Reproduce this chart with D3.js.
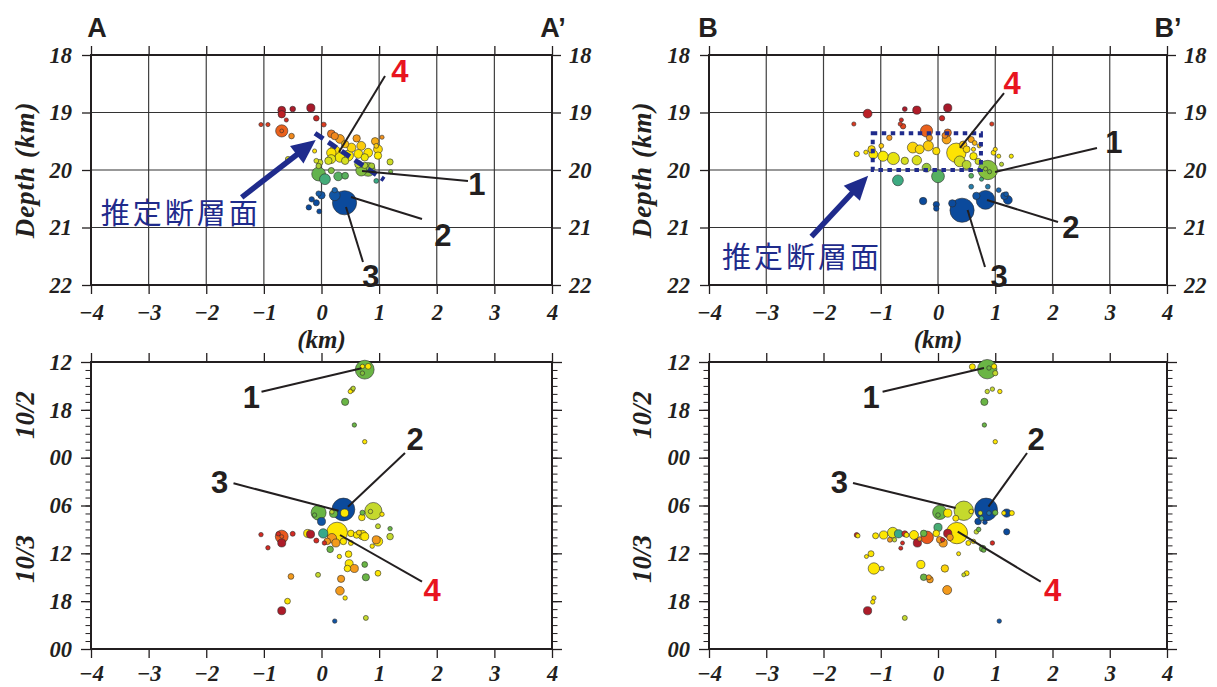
<!DOCTYPE html>
<html><head><meta charset="utf-8">
<script src="https://cdn.jsdelivr.net/npm/d3@7"></script>
<style>body{margin:0;background:#fff}svg{display:block}
.serif{font-family:"Liberation Serif","Times New Roman",Times,"Nimbus Roman","DejaVu Serif",serif;font-weight:bold;font-style:italic}
</style>
</head><body>
<svg id="c" width="1217" height="687"></svg>
<script>
// ---------------- data ----------------
const xTicks = [-4,-3,-2,-1,0,1,2,3,4];
const depthTicks = [18,19,20,21,22];
const timeTicks = [12,18,24,30,36,42,48];            // hours since 10/2 00:00
const timeTickLabels = ["12","18","00","06","12","18","00"];
const dayLabels = ["10/2","10/3"];
const dayLabelHours = [18.65,36.7];
const faultLabel = "推定断層面";

// cross sections: [distance km, depth km, magnitude]
const sectionA = [
 [-0.69,18.96,0.5],[-0.69,19.03,0.45],[-0.50,18.94,0.23],[-0.185,18.92,0.55],[-0.09,19.10,0.23],[-0.61,19.13,0.05],[-1.05,19.21,0.05],[-0.93,19.21,0.05],[0.04,19.21,0.13],
 [-0.69,19.32,1.05],[-0.69,19.32,0.0],[-0.52,19.41,0.23],[0.17,19.37,0.5],[0.23,19.41,0.45],[0.32,19.46,0.63],[0.93,19.50,0.45],[1.05,19.43,0.05],[0.95,19.58,0.13],
 [0.61,19.45,0.45],[0.41,19.55,0.45],[0.23,19.67,0.88],[0.46,19.75,0.88],[0.52,19.61,0.63],[0.69,19.58,0.63],[0.81,19.70,0.63],[0.98,19.64,0.63],[0.17,19.81,0.63],[0.32,19.78,0.75],[0.64,19.72,0.63],[0.75,19.78,0.45],[0.98,19.75,0.45],[0.17,19.70,0.7],[-0.12,19.67,0.05],[-0.58,19.81,0.2],
 [1.19,19.86,0.3],[0.12,19.84,0.45],[-0.03,19.87,0.3],[0.41,19.84,0.45],[0.64,19.90,0.45],[0.75,19.92,0.3],[0.87,19.93,0.3],[-0.05,19.93,0.2],[-0.09,19.84,0.13],
 [-0.05,20.07,1.25],[0.06,20.16,0.88],[0.29,20.11,0.63],[0.41,20.10,0.38],[0.17,20.01,0.3],[0.69,20.01,0.88],[0.81,19.99,1.25],[0.95,20.19,0.13],[1.20,20.03,0.05],
 [0.40,20.57,2.55],[0.23,20.44,0.88],[0.23,20.35,0.2],[0.0,20.44,0.45],[-0.09,20.57,0.3],[-0.17,20.51,0.2],[-0.22,20.65,0.2],[-0.04,20.72,0.13],[-0.05,20.41,0.2]
];
const sectionB = [
 [-1.23,19.02,0.63],[-0.58,18.94,0.13],[-0.37,18.96,0.55],[0.17,18.92,0.55],[0.07,19.10,0.2],[-0.64,19.13,0.05],[-0.66,19.20,0.05],[-0.61,19.24,0.2],[-1.47,19.20,0.05],[0.94,19.20,0.05],
 [-0.2,19.32,1.05],[-0.15,19.44,0.3],[0.17,19.35,0.45],[0.15,19.47,0.63],[0.12,19.40,0.25],[-0.85,19.44,0.2],
 [-0.99,19.58,0.13],[-1.42,19.72,0.2],[-1.26,19.69,0.05],[-1.16,19.64,0.45],[-1.13,19.73,0.63],[-0.96,19.76,0.8],[-0.78,19.80,1.05],[-0.58,19.84,0.45],[-0.44,19.61,0.88],[-0.32,19.64,0.63],[-0.17,19.58,0.8],[-0.03,19.67,0.45],[-0.37,19.83,0.7],
 [-0.2,19.96,0.63],[0.0,20.11,1.13],[-0.7,20.18,0.88],
 [0.32,19.70,1.95],[0.44,19.56,0.45],[0.5,19.64,0.38],[0.58,19.47,0.3],[0.64,19.53,0.13],[0.38,19.85,0.88],[0.5,19.91,0.63],[0.62,19.76,0.45],[0.70,19.85,0.3],[0.62,19.64,0.05],[0.72,19.58,0.05],
 [0.87,20.0,1.95],[0.83,19.98,0.05],[0.9,20.03,0.05],[0.97,19.70,0.13],[1.0,19.64,0.05],[1.06,19.76,0.05],[1.28,19.76,0.05],[1.11,19.9,0.05],[0.76,20.16,0.05],[0.58,20.1,0.13],
 [0.58,20.29,0.13],[0.87,20.29,0.13],[0.83,20.52,1.88],[0.67,20.45,0.45],[1.16,20.45,0.45],[1.22,20.52,0.63],[1.19,20.42,0.13],[1.06,20.35,0.13],[0.42,20.70,2.55],[0.25,20.58,0.45],[-0.26,20.54,0.45],[-0.03,20.6,0.3],[-0.03,20.67,0.2]
];
// space-time: [distance km, hours since 10/2 00:00, depth km, magnitude]
const timeA = [
 [0.75,12.96,20.05,1.88],[0.81,12.55,19.72,0.25],[0.71,12.55,19.72,0.08],[0.71,13.4,20.0,0.08],
 [0.53,15.5,19.72,0.15],[0.50,15.7,19.75,0.08],[0.55,15.3,19.9,0.08],
 [0.41,17.0,20.05,0.43],[0.57,19.9,20.05,0.08],[0.75,22.0,19.72,0.08],
 [0.38,30.5,20.55,2.38],[0.40,30.95,19.72,0.53],
 [-0.05,30.9,20.05,1.4],[-0.12,31.2,20.05,0.08],[0.21,31.0,20.05,0.53],[0.18,30.8,19.9,0.08],
 [0.0,32.0,20.45,0.53],
 [0.9,30.7,19.88,1.68],[0.85,30.75,19.88,0.08],
 [0.70,31.5,19.72,0.35],[0.71,30.9,20.05,0.15],[1.05,31.1,19.72,0.08],
 [0.98,32.6,19.88,0.15],[1.19,32.9,20.05,0.08],[1.19,33.9,19.88,0.35],
 [0.27,33.4,19.72,2.13],
 [0.18,34.1,19.45,0.7],[0.25,34.7,19.45,0.53],[0.10,34.5,19.45,0.35],
 [0.03,33.5,20.2,0.7],[-0.24,33.5,19.72,0.53],[-0.19,33.6,18.95,0.53],
 [-0.09,34.4,19.15,0.15],[0.05,34.7,19.15,0.08],
 [-0.69,33.9,19.3,1.13],[-0.69,34.7,18.95,0.53],[-0.75,33.55,19.15,0.08],[-0.69,33.9,19.3,0.0],
 [-1.05,33.65,19.15,0.08],[-0.93,35.3,19.15,0.08],[-0.5,33.55,19.15,0.15],
 [0.51,33.5,19.72,0.35],[0.61,33.7,19.72,0.35],[0.71,33.7,19.72,0.7],[0.75,33.9,19.72,0.53],[0.65,33.4,19.6,0.15],[0.38,34.5,19.72,0.35],[0.51,34.7,19.72,0.15],[0.88,35.1,19.72,0.08],
 [0.95,34.3,19.45,0.53],[0.98,34.5,19.72,0.7],
 [0.15,35.5,20.05,0.35],[0.31,36.4,19.72,0.08],[0.47,36.1,19.72,0.35],
 [0.48,37.3,19.72,0.53],[0.45,37.9,19.72,0.35],[0.57,37.9,19.45,0.53],
 [0.75,37.4,20.05,0.25],[0.98,38.5,19.72,0.25],[0.77,39.0,20.05,0.43],[-0.06,38.7,19.88,0.15],[-0.53,38.9,19.45,0.25],[0.34,39.2,19.45,0.43],[0.32,40.7,19.45,0.6],[0.41,41.6,19.72,0.08],[-0.59,42.0,19.72,0.25],[-0.69,43.2,18.95,0.53],[0.77,44.1,19.88,0.15],[0.23,44.5,20.45,0.08]
];
const timeB = [
 [0.86,12.9,20.05,1.95],[0.60,12.6,19.72,0.28],[0.98,12.55,19.72,0.18],[1.0,13.4,19.88,0.18],[0.89,12.75,20.05,0.08],
 [0.86,15.7,19.88,0.08],[0.95,15.4,19.88,0.08],[1.08,15.7,19.72,0.08],
 [0.81,17.0,20.05,0.43],[0.81,19.9,20.05,0.08],[1.0,22.0,19.72,0.08],
 [0.84,30.5,20.55,2.38],[0.45,30.66,19.88,1.95],[0.03,30.87,20.05,1.3],[0.0,31.2,20.05,0.1],[0.17,30.95,19.72,0.55],
 [1.2,30.95,20.5,0.55],[1.29,30.95,19.72,0.15],[0.74,30.95,19.88,0.1],[0.89,30.95,20.3,0.1],[1.0,30.9,20.05,0.2],[1.15,30.95,19.72,0.08],[0.58,30.75,19.72,0.1],
 [0.70,32.0,20.5,0.35],[0.82,32.1,20.5,0.1],[0.76,31.6,20.2,0.1],[0.31,31.6,19.72,0.28],[0.0,32.75,20.15,0.55],[0.67,33.3,19.88,0.1],[0.71,33.0,20.05,0.1],[1.2,33.3,20.5,0.3],
 [0.33,33.46,19.72,2.2],[-0.19,34.0,19.3,1.1],[0.17,33.5,18.95,0.55],
 [-1.42,33.7,19.15,0.15],[-1.40,33.8,19.72,0.08],[-1.09,33.8,19.72,0.28],[-0.95,33.7,19.72,0.55],[-0.79,33.4,19.8,0.85],[-0.69,33.55,20.2,0.55],[-0.84,34.3,19.45,0.15],[-0.76,34.3,19.88,0.08],[-0.58,33.55,19.15,0.28],[-0.55,33.7,19.72,0.15],[-0.42,33.7,19.72,0.65],[-0.36,34.7,18.95,0.55],[-0.32,34.2,19.45,0.08],[-0.25,33.5,20.05,0.35],[-0.03,33.5,19.72,0.35],[0.03,34.3,19.45,0.35],[0.09,34.7,19.45,0.55],[0.08,34.3,19.15,0.08],[0.21,34.0,19.45,0.35],[0.53,34.7,19.72,0.15],[0.62,34.5,19.72,0.08],
 [-0.62,34.7,19.15,0.03],[-0.65,35.35,19.15,0.03],[0.95,34.7,19.15,0.08],[0.78,35.4,20.05,0.35],[0.8,35.6,20.05,0.08],
 [-1.17,36.05,19.72,0.28],[-1.25,36.4,19.72,0.03],[0.36,36.05,19.72,0.03],[-1.12,37.9,19.72,0.95],[-0.98,37.9,19.72,0.1],[-0.30,37.4,19.72,0.55],[0.12,37.9,19.6,0.45],[0.50,38.5,19.72,0.15],[0.45,38.7,19.88,0.03],
 [-0.25,39.0,20.05,0.35],[-0.16,39.0,19.45,0.15],[-0.14,39.3,19.45,0.35],[0.16,40.6,19.45,0.65],[-1.12,41.6,19.72,0.08],[-1.14,42.1,19.72,0.08],[-1.23,43.2,18.95,0.55],[-0.58,44.1,19.88,0.15],[1.07,44.5,20.45,0.08]
];
// callouts: [label, labelX, labelY, lineX1, lineY1, lineX2, lineY2] in data units
const calloutsSecA = [["4",1.362,18.47,1.102,18.365,0.304,19.687],["1",2.698,20.435,2.542,20.19,0.703,20.017],["2",2.108,21.32,1.744,20.852,0.512,20.47],["3",0.859,22.035,0.720,21.6,0.425,20.643]];
const calloutsSecB = [["4",1.293,18.678,1.153,18.661,0.384,19.617],["1",3.074,19.704,2.777,19.617,0.996,20.035],["2",2.323,21.183,2.096,20.904,0.856,20.522],["3",1.066,22.035,0.821,21.687,0.517,20.696]];
const calloutsTimeA = [["1",-1.215,17.77,-1.041,15.726,0.694,12.79],["2",1.623,23.04,1.449,23.415,0.460,30.15],["3",-1.770,28.43,-1.527,27.216,0.295,30.653],["4",1.918,41.98,1.744,39.56,0.321,33.70]];
const calloutsTimeB = [["1",-1.170,17.77,-0.968,15.726,0.803,12.75],["2",1.712,23.04,1.555,23.415,0.882,30.15],["3",-1.721,28.43,-1.485,27.18,0.309,30.31],["4",2.000,41.98,1.794,39.56,0.344,33.29]];
// fault annotations (data units)
const faultA = {line:[-0.113,19.36,1.085,20.17], arrow:[-1.385,20.475,-0.10,19.48], text:[-3.83,20.94]};
const faultB = {box:[-1.14,19.36,0.75,20.0], arrow:[-2.21,21.16,-1.22,20.10], text:[-3.773,21.70]};

// ---------------- drawing ----------------
const svg = d3.select("#c");
const SANS = "'Liberation Sans',Arial,sans-serif";
const INK = "#231f20", NAVY = "#1f2b8c", RED = "#e8141f";

const depthColor = d3.scaleLinear()
  .domain([18.9,19.15,19.3,19.45,19.6,19.75,19.88,20.05,20.2,20.32,20.5])
  .range(["#a3182b","#d42a22","#e9581c","#f39a1c","#fcd30a","#fdeb00","#c5d92d","#6ab545","#36a88a","#1f6db5","#0b4a9c"])
  .clamp(true);
const rScale = d3.scaleLinear().domain([0,3]).range([1.9,13.9]);

const cols = [{left:91,right:552,letter:"A",title:25},{left:709,right:1167,letter:"B",title:642}];
const rowTop = {top:55,bottom:285}, rowBot = {top:362,bottom:649};
const fmtX = d => d < 0 ? "\u2212" + Math.abs(d) : String(d);

function styleAxis(g, lw){
  g.select(".domain").remove();
  g.selectAll("line").attr("stroke",INK).attr("stroke-width",lw||1.3);
  g.selectAll("text").attr("class","serif").attr("font-family",null).attr("font-size",22.5).attr("fill",INK);
}
function dots(g, data, fx, fy, fd, fm){
  const s = data.slice().sort((a,b)=>fm(b)-fm(a));
  g.append("g").selectAll("circle").data(s).join("circle")
    .attr("cx",d=>fx(d)).attr("cy",d=>fy(d)).attr("r",d=>rScale(fm(d)))
    .attr("fill",d=>depthColor(fd(d))).attr("stroke","#2b2b2b").attr("stroke-width",0.6);
}
function callouts(g, list, x, y){
  list.forEach(c=>{
    g.append("line").attr("x1",x(c[3])).attr("y1",y(c[4])).attr("x2",x(c[5])).attr("y2",y(c[6]))
      .attr("stroke",INK).attr("stroke-width",2);
    g.append("text").attr("x",x(c[1])).attr("y",y(c[2])).attr("text-anchor","middle")
      .attr("font-family",SANS).attr("font-weight","bold").attr("font-size",31)
      .attr("fill",c[0]==="4"?RED:INK).text(c[0]);
  });
}
function arrow(g, a, x, y){
  const x1=x(a[0]), y1=y(a[1]), x2=x(a[2]), y2=y(a[3]);
  const L=Math.hypot(x2-x1,y2-y1), ux=(x2-x1)/L, uy=(y2-y1)/L, hl=24, hw=11;
  const bx=x2-ux*hl, by=y2-uy*hl;
  g.append("line").attr("x1",x1).attr("y1",y1).attr("x2",bx+ux*2).attr("y2",by+uy*2)
    .attr("stroke",NAVY).attr("stroke-width",5.5);
  g.append("path").attr("d",`M${x2},${y2}L${bx-uy*hw},${by+ux*hw}L${bx+uy*hw},${by-ux*hw}Z`).attr("fill",NAVY);
}
function faultText(g, pos, x, y){
  g.append("text").attr("x",x(pos[0])).attr("y",y(pos[1]))
    .attr("font-family","'Noto Sans CJK JP','Noto Sans CJK SC',sans-serif").attr("font-size",29)
    .attr("textLength",157).attr("lengthAdjust","spacing").attr("fill",NAVY).text(faultLabel);
}

cols.forEach((col,ci)=>{
  const x = d3.scaleLinear().domain([-4,4]).range([col.left,col.right]);
  // ---------- top: depth section ----------
  const y = d3.scaleLinear().domain([18,22]).range([rowTop.top,rowTop.bottom]);
  const g = svg.append("g");
  g.append("g").selectAll("line").data(xTicks.slice(1,-1)).join("line")
    .attr("x1",d=>x(d)).attr("x2",d=>x(d)).attr("y1",y(18)).attr("y2",y(22)).attr("stroke","#3f3f3f").attr("stroke-width",1.2);
  g.append("g").selectAll("line").data(depthTicks.slice(1,-1)).join("line")
    .attr("y1",d=>y(d)).attr("y2",d=>y(d)).attr("x1",x(-4)).attr("x2",x(4)).attr("stroke","#333").attr("stroke-width",1.2);
  g.append("g").attr("transform",`translate(0,${y(22)})`)
    .call(d3.axisBottom(x).tickValues(xTicks).tickSize(9).tickPadding(10).tickFormat(fmtX)).call(styleAxis);
  g.append("g").attr("transform",`translate(0,${y(18)})`)
    .call(d3.axisTop(x).tickValues(xTicks).tickSize(9).tickFormat("")).call(styleAxis);
  g.append("g").attr("transform",`translate(${x(-4)},0)`)
    .call(d3.axisLeft(y).tickValues(depthTicks).tickSize(9).tickPadding(10).tickFormat(d3.format("d"))).call(styleAxis);
  g.append("g").attr("transform",`translate(${x(4)},0)`)
    .call(d3.axisRight(y).tickValues(depthTicks).tickSize(9).tickPadding(8).tickFormat(d3.format("d"))).call(styleAxis);
  g.append("rect").attr("x",x(-4)).attr("y",y(18)).attr("width",x(4)-x(-4)).attr("height",y(22)-y(18))
    .attr("fill","none").attr("stroke",INK).attr("stroke-width",2);
  dots(g, ci===0?sectionA:sectionB, d=>x(d[0]), d=>y(d[1]), d=>d[1], d=>d[2]);
  const f = ci===0?faultA:faultB;
  if (f.line) {
    g.append("line").attr("x1",x(f.line[0])).attr("y1",y(f.line[1])).attr("x2",x(f.line[2])).attr("y2",y(f.line[3]))
      .attr("stroke",NAVY).attr("stroke-width",5).attr("stroke-dasharray","10,6");
  }
  if (f.box) {
    g.append("rect").attr("x",x(f.box[0])).attr("y",y(f.box[1])).attr("width",x(f.box[2])-x(f.box[0])).attr("height",y(f.box[3])-y(f.box[1]))
      .attr("fill","none").attr("stroke",NAVY).attr("stroke-width",4).attr("stroke-dasharray","4.5,4.5");
  }
  arrow(g, f.arrow, x, y);
  faultText(g, f.text, x, y);
  callouts(g, ci===0?calloutsSecA:calloutsSecB, x, y);
  // titles
  g.append("text").attr("class","serif").attr("transform",`translate(${col.title},${y(20)}) rotate(-90)`).attr("text-anchor","middle")
    .attr("dominant-baseline","central").attr("font-size",27).attr("letter-spacing",1).attr("fill",INK).text("Depth (km)");
  g.append("text").attr("class","serif").attr("x",x(0)).attr("y",348).attr("text-anchor","middle")
    .attr("font-size",25).attr("fill",INK).text("(km)");
  g.append("text").attr("x",ci===0?x(-4)+6:x(-4)-1).attr("y",37).attr("text-anchor","middle").attr("font-family",SANS)
    .attr("font-weight","bold").attr("font-size",27).attr("fill",INK).text(col.letter);
  g.append("text").attr("x",x(4)+1).attr("y",37).attr("text-anchor","middle").attr("font-family",SANS)
    .attr("font-weight","bold").attr("font-size",27).attr("fill",INK).text(col.letter+"\u2019");

  // ---------- bottom: space-time ----------
  const t = d3.scaleLinear().domain([12,48]).range([rowBot.top,rowBot.bottom]);
  const h = svg.append("g");
  const minor = d3.range(12,49);
  h.append("g").attr("transform",`translate(0,${t(48)})`)
    .call(d3.axisBottom(x).tickValues(xTicks).tickSize(9).tickPadding(7).tickFormat(fmtX)).call(styleAxis);
  h.append("g").attr("transform",`translate(0,${t(12)})`)
    .call(d3.axisTop(x).tickValues(xTicks).tickSize(9).tickFormat("")).call(styleAxis);
  h.append("g").attr("transform",`translate(${x(-4)},0)`)
    .call(d3.axisLeft(t).tickValues(minor).tickSize(5.5).tickFormat("")).call(g=>styleAxis(g,1));
  h.append("g").attr("transform",`translate(${x(-4)},0)`)
    .call(d3.axisLeft(t).tickValues(timeTicks).tickSize(10).tickPadding(9).tickFormat((d,i)=>timeTickLabels[i])).call(styleAxis);
  h.append("g").attr("transform",`translate(${x(4)},0)`)
    .call(d3.axisRight(t).tickValues(minor).tickSize(5.5).tickFormat("")).call(g=>styleAxis(g,1));
  h.append("g").attr("transform",`translate(${x(4)},0)`)
    .call(d3.axisRight(t).tickValues(timeTicks).tickSize(10).tickFormat("")).call(styleAxis);
  h.append("rect").attr("x",x(-4)).attr("y",t(12)).attr("width",x(4)-x(-4)).attr("height",t(48)-t(12))
    .attr("fill","none").attr("stroke",INK).attr("stroke-width",2);
  dots(h, ci===0?timeA:timeB, d=>x(d[0]), d=>t(d[1]), d=>d[2], d=>d[3]);
  callouts(h, ci===0?calloutsTimeA:calloutsTimeB, x, t);
  dayLabels.forEach((lab,i)=>{
    h.append("text").attr("class","serif").attr("transform",`translate(${col.title},${t(dayLabelHours[i])}) rotate(-90)`).attr("text-anchor","middle")
      .attr("dominant-baseline","central").attr("font-size",27).attr("fill",INK).text(lab);
  });
});
</script>
</body></html>
